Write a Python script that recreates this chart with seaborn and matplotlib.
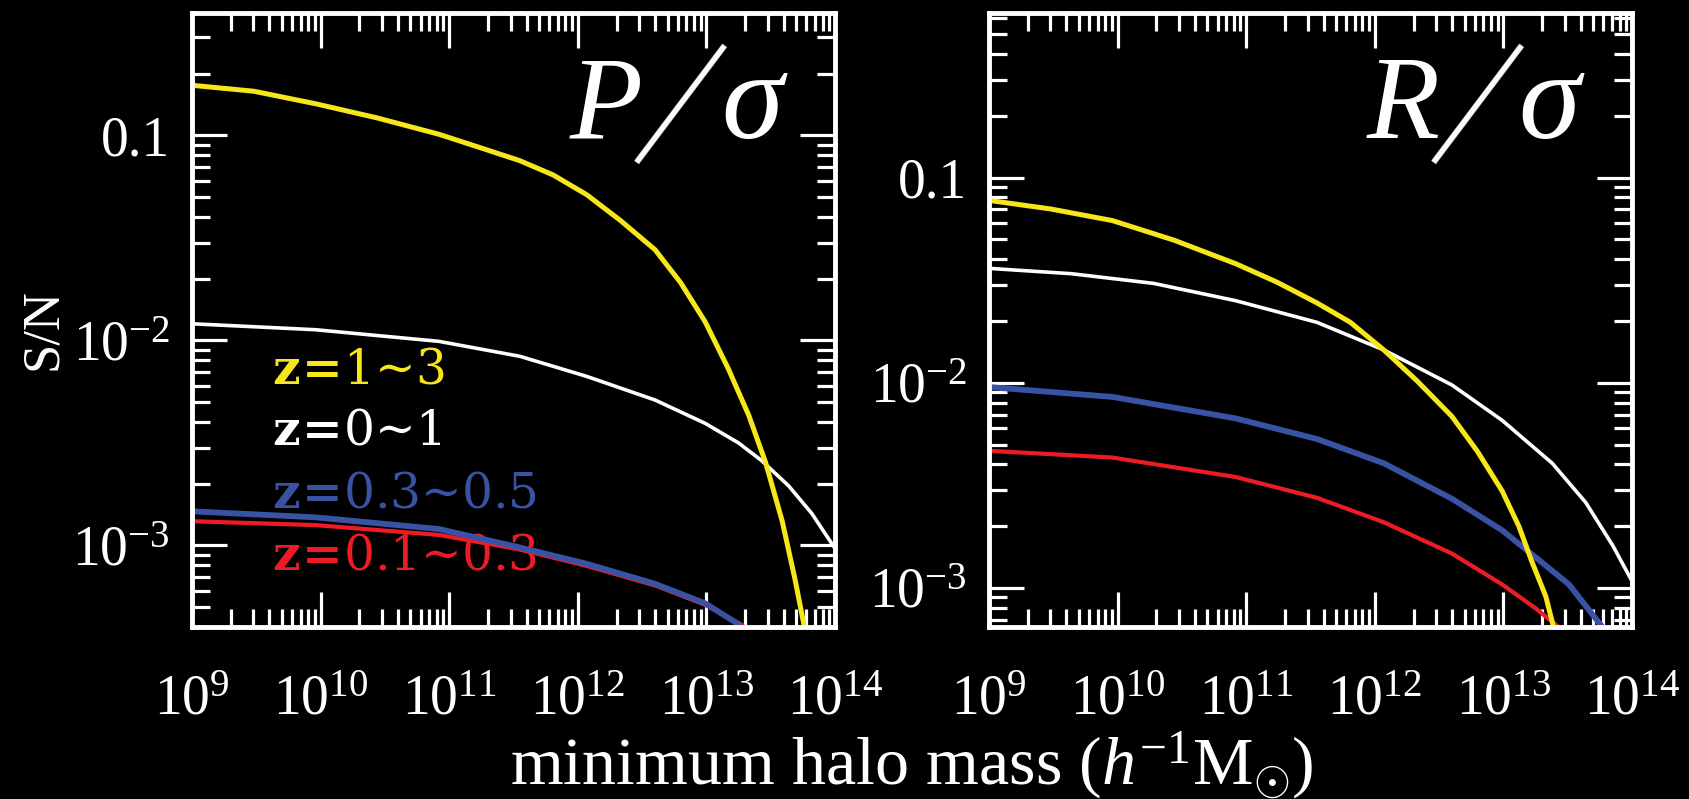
import numpy as np
import pandas as pd
import matplotlib
matplotlib.use("Agg")
import matplotlib.pyplot as plt
import matplotlib.ticker as mticker
import seaborn as sns

# ---------------- data ----------------
series_names = ["z=1~3", "z=0~1", "z=0.3~0.5", "z=0.1~0.3"]

# left panel: P / sigma   (log10 of minimum halo mass, S/N)
p_yellow_logm = [9.00, 9.48, 9.96, 10.44, 10.92, 11.24, 11.55, 11.81, 12.07, 12.33, 12.60, 12.80, 12.99,
                 13.17, 13.33, 13.46, 13.59, 13.69, 13.76]
p_yellow_sn = [0.1754, 0.1641, 0.1426, 0.1216, 0.1012, 0.0871, 0.0752, 0.0640, 0.0513, 0.0385, 0.0277,
               0.0191, 0.01233, 0.00728, 0.00430, 0.00254, 0.00131, 0.000679, 0.000405]
p_white_logm = [9.0, 9.96, 10.92, 11.55, 12.07, 12.60, 12.99, 13.25, 13.43, 13.64, 13.82, 14.0]
p_white_sn = [0.01205, 0.01127, 0.00989, 0.00836, 0.00667, 0.00512, 0.00394, 0.00316, 0.00259,
              0.00195, 0.00143, 0.000966]
p_blue_logm = [9.0, 9.96, 10.92, 11.55, 12.07, 12.60, 12.99, 13.27]
p_blue_sn = [0.001466, 0.001371, 0.001202, 0.000977, 0.000813, 0.000650, 0.000522, 0.000405]
p_red_logm = [9.0, 9.96, 10.92, 11.55, 12.07, 12.60, 12.99, 13.29]
p_red_sn = [0.001312, 0.001256, 0.001125, 0.000955, 0.000794, 0.000638, 0.000513, 0.000405]

# right panel: R / sigma
r_yellow_logm = [9.0, 9.48, 9.96, 10.44, 10.92, 11.24, 11.55, 11.81, 12.07, 12.33, 12.60, 12.80, 12.99,
                 13.12, 13.22, 13.33, 13.39]
r_yellow_sn = [0.0774, 0.0703, 0.0617, 0.0495, 0.0380, 0.0309, 0.0245, 0.0197, 0.01445, 0.01019,
               0.00685, 0.00461, 0.00297, 0.00200, 0.00135, 0.000908, 0.000644]
r_white_logm = [9.0, 9.64, 10.28, 10.92, 11.55, 12.07, 12.60, 12.99, 13.38, 13.64, 13.85, 14.0]
r_white_sn = [0.0361, 0.0340, 0.0305, 0.0251, 0.0197, 0.01445, 0.00975, 0.00656, 0.00405, 0.00261,
              0.00161, 0.00108]
r_blue_logm = [9.0, 9.96, 10.92, 11.55, 12.07, 12.60, 12.99, 13.25, 13.51, 13.77]
r_blue_sn = [0.00953, 0.00853, 0.00670, 0.00532, 0.00405, 0.00272, 0.00191, 0.00141, 0.00104, 0.000644]
r_red_logm = [9.0, 9.96, 10.92, 11.55, 12.07, 12.60, 12.99, 13.25, 13.43]
r_red_sn = [0.00466, 0.00432, 0.00347, 0.00275, 0.00209, 0.00147, 0.00104, 0.000796, 0.000644]

x_tick_exponents = [9, 10, 11, 12, 13, 14]
y_tick_values = [1e-3, 1e-2, 0.1]
y_tick_labels = [r"$10^{-3}$", r"$10^{-2}$", "0.1"]
panel_letters = [r"$P$", r"$R$"]
panel_denominator = r"$\sigma$"
y_label = "S/N"
x_label = r"minimum halo mass ($h^{-1}$M$_{\odot}$)"

# ---------------- styling ----------------
colors = {"z=1~3": "#f7e61a", "z=0~1": "#ffffff", "z=0.3~0.5": "#3953a4", "z=0.1~0.3": "#ed1c24"}
widths = {"z=1~3": 3.6, "z=0~1": 2.6, "z=0.3~0.5": 4.2, "z=0.1~0.3": 3.0}
draw_order = ["z=0.1~0.3", "z=0.3~0.5", "z=0~1", "z=1~3"]

sns.set_theme(style="dark")
plt.rcParams.update({
    "figure.facecolor": "black",
    "axes.facecolor": "black",
    "savefig.facecolor": "black",
    "text.color": "white",
    "axes.edgecolor": "white",
    "mathtext.fontset": "custom",
    "mathtext.rm": "Liberation Serif",
    "mathtext.it": "Liberation Serif:italic",
    "mathtext.bf": "Liberation Serif:bold",
    "axes.grid": False,
    "xtick.bottom": True,
    "xtick.top": True,
    "ytick.left": True,
    "ytick.right": True,
})
plt.rcParams["font.family"] = ["Liberation Serif", "DejaVu Serif"]


def make_frame(pairs):
    rows = []
    for name, logm, sn in pairs:
        for lm, v in zip(logm, sn):
            rows.append({"series": name, "mass": 10.0 ** lm, "sn": v})
    return pd.DataFrame(rows)


df_p = make_frame([
    ("z=1~3", p_yellow_logm, p_yellow_sn),
    ("z=0~1", p_white_logm, p_white_sn),
    ("z=0.3~0.5", p_blue_logm, p_blue_sn),
    ("z=0.1~0.3", p_red_logm, p_red_sn),
])
df_r = make_frame([
    ("z=1~3", r_yellow_logm, r_yellow_sn),
    ("z=0~1", r_white_logm, r_white_sn),
    ("z=0.3~0.5", r_blue_logm, r_blue_sn),
    ("z=0.1~0.3", r_red_logm, r_red_sn),
])

fig = plt.figure(figsize=(16.9, 7.99), dpi=100)
ax_p = fig.add_axes([192 / 1690, 1 - 627 / 799, 643 / 1690, 614 / 799])
ax_r = fig.add_axes([989 / 1690, 1 - 627 / 799, 643 / 1690, 614 / 799])

ylims = [(4.0e-4, 0.395), (6.45e-4, 0.634)]

for ax, df, letter, ylim in [(ax_p, df_p, panel_letters[0], ylims[0]),
                             (ax_r, df_r, panel_letters[1], ylims[1])]:
    for name in draw_order:
        sub = df[df["series"] == name]
        sns.lineplot(data=sub, x="mass", y="sn", ax=ax, color=colors[name],
                     linewidth=widths[name], sort=False, estimator=None,
                     legend=False, zorder=3, solid_capstyle="butt",
                     solid_joinstyle="round")
    ax.set_xscale("log")
    ax.set_yscale("log")
    ax.set_xlim(10.0 ** x_tick_exponents[0], 10.0 ** x_tick_exponents[-1])
    ax.set_ylim(*ylim)
    ax.set_xlabel("")
    ax.set_ylabel("")
    ax.xaxis.set_major_locator(mticker.FixedLocator([10.0 ** e for e in x_tick_exponents]))
    ax.xaxis.set_major_formatter(mticker.FixedFormatter([r"$10^{%d}$" % e for e in x_tick_exponents]))
    ax.xaxis.set_minor_locator(mticker.LogLocator(base=10, subs=np.arange(2, 10), numticks=50))
    ax.xaxis.set_minor_formatter(mticker.NullFormatter())
    ax.yaxis.set_major_locator(mticker.FixedLocator(y_tick_values))
    ax.yaxis.set_major_formatter(mticker.FixedFormatter(y_tick_labels))
    ax.yaxis.set_minor_locator(mticker.LogLocator(base=10, subs=np.arange(2, 10), numticks=50))
    ax.yaxis.set_minor_formatter(mticker.NullFormatter())
    ax.tick_params(which="both", direction="in", top=True, right=True,
                   bottom=True, left=True, colors="white", width=2.3)
    ax.tick_params(which="major", length=25)
    ax.tick_params(which="minor", length=13)
    ax.tick_params(axis="x", which="major", pad=34, labelsize=40)
    ax.tick_params(axis="y", which="major", pad=16, labelsize=40)
    for sp in ax.spines.values():
        sp.set_color("white")
        sp.set_linewidth(3.5)
        sp.set_zorder(5)
    # panel title  X / sigma
    ax.text(0.586, 0.796, letter, transform=ax.transAxes, ha="left", va="baseline",
            fontsize=86, color="white")
    ax.text(0.753, 0.838, "|", transform=ax.transAxes, ha="center", va="center",
            rotation=-37, fontsize=113, color="white", family=["Lato", "DejaVu Sans"],
            fontweight=300)
    ax.text(0.928, 0.796, panel_denominator, transform=ax.transAxes, ha="right",
            va="baseline", fontsize=90, color="white")

# legend written as coloured labels
legend_y = [0.397, 0.298, 0.194, 0.093]
for name, yy in zip(series_names, legend_y):
    label = r"$\mathbf{z\!=\!}$" + name.split("=")[1].replace("~", "\u223c")
    ax_p.text(0.125, yy, label, transform=ax_p.transAxes,
              ha="left", va="baseline", fontsize=35, color=colors[name],
              family=["DejaVu Serif"], math_fontfamily="dejavuserif", zorder=1)

fig.text(43 / 1690, 1 - 329 / 799, y_label, rotation=90, ha="center", va="center",
         fontsize=38, color="white")

fig.text(912 / 1690, 0.018, x_label, ha="center", va="baseline", fontsize=49, color="white")

fig.savefig("out.png", dpi=100, facecolor="black")
